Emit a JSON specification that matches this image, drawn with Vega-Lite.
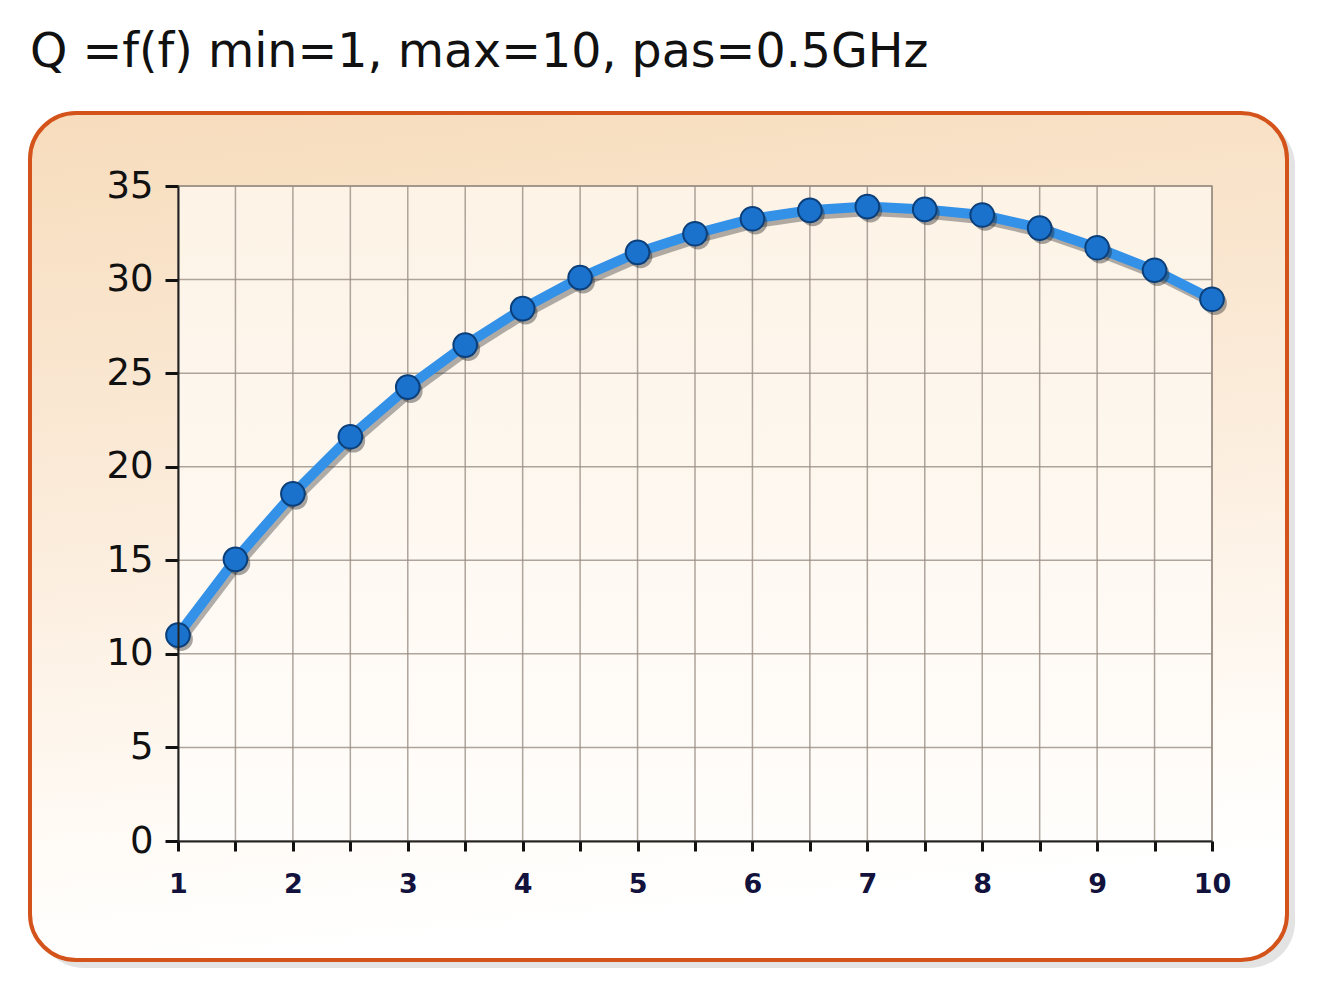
{
  "$schema": "https://vega.github.io/schema/vega-lite/v6.json",
  "autosize": "none",
  "width": 1034,
  "height": 655,
  "padding": {"left": 178, "top": 186, "right": 124, "bottom": 154},
  "background": "#ffffff",
  "title": {
    "text": "Q =f(f) min=1, max=10, pas=0.5GHz",
    "anchor": "start",
    "frame": "group",
    "dx": -148,
    "dy": -42,
    "font": "DejaVu Sans",
    "fontSize": 47.5,
    "fontWeight": "normal",
    "color": "#111111",
    "offset": -45,
    "baseline": "alphabetic"
  },
  "config": {
    "view": {"stroke": null}
  },
  "datasets": {
    "curve": [
      {"f": 1.0, "Q": 11.0},
      {"f": 1.5, "Q": 15.05},
      {"f": 2.0, "Q": 18.55},
      {"f": 2.5, "Q": 21.6},
      {"f": 3.0, "Q": 24.25},
      {"f": 3.5, "Q": 26.5},
      {"f": 4.0, "Q": 28.45},
      {"f": 4.5, "Q": 30.1},
      {"f": 5.0, "Q": 31.45},
      {"f": 5.5, "Q": 32.45},
      {"f": 6.0, "Q": 33.25},
      {"f": 6.5, "Q": 33.7},
      {"f": 7.0, "Q": 33.9},
      {"f": 7.5, "Q": 33.75},
      {"f": 8.0, "Q": 33.45},
      {"f": 8.5, "Q": 32.75},
      {"f": 9.0, "Q": 31.7},
      {"f": 9.5, "Q": 30.5},
      {"f": 10.0, "Q": 28.95}
    ],
    "xgrid": [
      {"f": 1.5}, {"f": 2}, {"f": 2.5}, {"f": 3}, {"f": 3.5}, {"f": 4}, {"f": 4.5}, {"f": 5}, {"f": 5.5},
      {"f": 6}, {"f": 6.5}, {"f": 7}, {"f": 7.5}, {"f": 8}, {"f": 8.5}, {"f": 9}, {"f": 9.5}, {"f": 10}
    ],
    "ygrid": [
      {"Q": 5}, {"Q": 10}, {"Q": 15}, {"Q": 20}, {"Q": 25}, {"Q": 30}, {"Q": 35}
    ]
  },
  "data": {"name": "curve"},
  "layer": [
    {
      "data": {"values": [{"frame": "shadow"}]},
      "mark": {
        "type": "rect",
        "cornerRadius": 46,
        "fill": "#b8b8b8",
        "opacity": 0.4,
        "xOffset": -140,
        "x2Offset": 83,
        "yOffset": -66,
        "y2Offset": 127
      },
      "encoding": {
        "x": {"value": 0},
        "x2": {"value": "width"},
        "y": {"value": 0},
        "y2": {"value": "height"}
      }
    },
    {
      "data": {"values": [{"frame": "box"}]},
      "mark": {
        "type": "rect",
        "cornerRadius": 46,
        "stroke": "#d4531b",
        "strokeWidth": 4,
        "fill": {
          "gradient": "linear",
          "x1": 0, "y1": 0, "x2": 0.15, "y2": 1,
          "stops": [
            {"offset": 0, "color": "#f7dcbc"},
            {"offset": 0.45, "color": "#fbebd9"},
            {"offset": 0.85, "color": "#fffbf6"},
            {"offset": 1, "color": "#ffffff"}
          ]
        },
        "xOffset": -148,
        "x2Offset": 75,
        "yOffset": -73,
        "y2Offset": 119
      },
      "encoding": {
        "x": {"value": 0},
        "x2": {"value": "width"},
        "y": {"value": 0},
        "y2": {"value": "height"}
      }
    },
    {
      "data": {"values": [{"frame": "plot"}]},
      "mark": {
        "type": "rect",
        "stroke": "#9a8f84",
        "strokeWidth": 1.5,
        "fill": {
          "gradient": "linear",
          "x1": 0, "y1": 0, "x2": 0, "y2": 1,
          "stops": [
            {"offset": 0, "color": "#fdf3e6"},
            {"offset": 1, "color": "#fffdfb"}
          ]
        }
      },
      "encoding": {
        "x": {"value": 0},
        "x2": {"value": "width"},
        "y": {"value": 0},
        "y2": {"value": "height"}
      }
    },
    {
      "data": {"name": "xgrid"},
      "mark": {"type": "rule", "stroke": "#9a8f84", "strokeWidth": 1.5, "opacity": 0.8},
      "encoding": {
        "x": {
          "field": "f", "type": "quantitative", "title": null,
          "scale": {"domain": [1, 10], "nice": false, "zero": false},
          "axis": {
            "zindex": 1,
            "values": [1, 1.5, 2, 2.5, 3, 3.5, 4, 4.5, 5, 5.5, 6, 6.5, 7, 7.5, 8, 8.5, 9, 9.5, 10],
            "labelExpr": "datum.value % 1 == 0 ? format(datum.value, 'd') : ''",
            "grid": false,
            "domainColor": "#222222",
            "domainWidth": 2,
            "tickColor": "#111111",
            "tickWidth": 3,
            "tickSize": 10,
            "labelFont": "DejaVu Sans",
            "labelFontSize": 27,
            "labelFontWeight": "bold",
            "labelColor": "#12123c",
            "labelPadding": 20,
            "labelFlush": false,
            "labelOverlap": false
          }
        }
      }
    },
    {
      "data": {"name": "ygrid"},
      "mark": {"type": "rule", "stroke": "#9a8f84", "strokeWidth": 1.5, "opacity": 0.8},
      "encoding": {
        "y": {
          "field": "Q", "type": "quantitative", "title": null,
          "scale": {"domain": [0, 35], "nice": false},
          "axis": {
            "zindex": 1,
            "values": [0, 5, 10, 15, 20, 25, 30, 35],
            "grid": false,
            "domainColor": "#222222",
            "domainWidth": 2,
            "tickColor": "#111111",
            "tickWidth": 3,
            "tickSize": 13,
            "labelFont": "DejaVu Sans",
            "labelFontSize": 37,
            "labelColor": "#111111",
            "labelPadding": 12,
            "labelOverlap": false
          }
        }
      }
    },
    {
      "mark": {"type": "line", "stroke": "#3a3a3a", "strokeWidth": 9, "opacity": 0.4, "xOffset": 3, "yOffset": 5},
      "encoding": {
        "x": {"field": "f", "type": "quantitative", "title": null},
        "y": {"field": "Q", "type": "quantitative", "title": null}
      }
    },
    {
      "mark": {"type": "line", "stroke": "#3391e8", "strokeWidth": 10},
      "encoding": {
        "x": {"field": "f", "type": "quantitative", "title": null},
        "y": {"field": "Q", "type": "quantitative", "title": null}
      }
    },
    {
      "mark": {"type": "circle", "size": 560, "fill": "#222222", "opacity": 0.4, "xOffset": 3, "yOffset": 4},
      "encoding": {
        "x": {"field": "f", "type": "quantitative", "title": null},
        "y": {"field": "Q", "type": "quantitative", "title": null}
      }
    },
    {
      "mark": {"type": "circle", "size": 560, "fill": "#1a72cc", "stroke": "#0b3f7a", "strokeWidth": 2, "opacity": 1},
      "encoding": {
        "x": {"field": "f", "type": "quantitative", "title": null},
        "y": {"field": "Q", "type": "quantitative", "title": null}
      }
    }
  ]
}
